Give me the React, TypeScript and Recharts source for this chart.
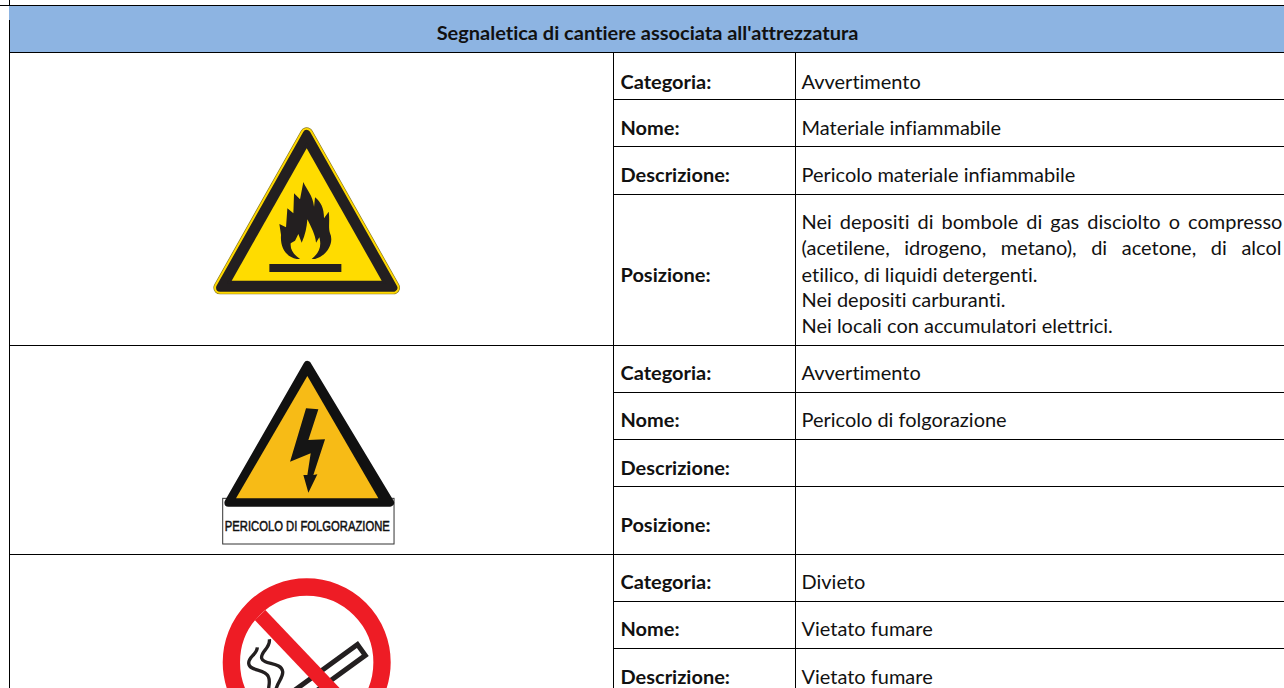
import React from "react";
import { ScatterChart, Scatter, XAxis, YAxis, ReferenceArea, ReferenceLine } from "recharts";

const FONT = "Lato, Carlito, 'Open Sans', sans-serif";
const W = 1284;
const H = 688;
const TEXT_SIZE = 18.5;
const TEXT_STRETCH = 1.08;

const headerTitle = "Segnaletica di cantiere associata all'attrezzatura";
const fieldNames = ["Categoria:", "Nome:", "Descrizione:", "Posizione:", "Categoria:", "Nome:", "Descrizione:", "Posizione:", "Categoria:", "Nome:", "Descrizione:"];
const fieldRowsY = [83, 129, 176, 276, 374, 421, 469, 526, 583, 630, 678];
const fieldValues = ["Avvertimento", "Materiale infiammabile", "Pericolo materiale infiammabile", "", "Avvertimento", "Pericolo di folgorazione", "", "", "Divieto", "Vietato fumare", "Vietato fumare"];
const positionLines = [
  "Nei depositi di bombole di gas disciolto o compresso",
  "(acetilene, idrogeno, metano), di acetone, di alcol",
  "etilico, di liquidi detergenti.",
  "Nei depositi carburanti.",
  "Nei locali con accumulatori elettrici.",
];
const positionLinesY = [223, 249, 276, 301, 327];
const positionLineGaps = [2.7, 8.8, 0, 0, 0];
const partialRules = [99.5, 146.5, 194.5, 392.5, 439.5, 486.5, 601.5, 648.5];
const fullRules = [345.5, 554.5];
const signKinds = ["fire", "shock", "smoke"];
const signCentersX = [306.7, 306.7, 306.7];
const signCentersY = [210, 450, 662];

const Cell = (props: any) => {
  const { cx, cy, payload } = props;
  const p = payload;
  return (
    <text transform={`translate(${cx} ${cy}) scale(${TEXT_STRETCH} 1)`} dy="0.35em" fontFamily={FONT} fontSize={p.size} fontWeight={p.bold ? 700 : 400}
      fill="#111" textAnchor={p.anchor} wordSpacing={p.gap || 0} style={{ fontVariantLigatures: "none" }}>{p.text}</text>
  );
};

const FIRE_OUTLINE = "M320 72 L580 533 L60 533 Z";

const Sign = (props: any) => {
  const { cx, cy, payload } = props;
  const kind = payload.kind;
  if (kind === "fire") {
    return (
      <g transform={`translate(${cx} ${cy}) scale(${1 / 3}) translate(-320 -300)`}>
        <path d={FIRE_OUTLINE} fill="#FFD800" stroke="#8a7a20" strokeWidth={40} strokeLinejoin="round" />
        <path d={FIRE_OUTLINE} fill="#FFD800" stroke="#FFD800" strokeWidth={36} strokeLinejoin="round" />
        <path d={FIRE_OUTLINE} fill="#231F20" stroke="#231F20" strokeWidth={24} strokeLinejoin="round" />
        <path d="M320 115 L545 512 L95 512 Z" fill="#FFDC00" />
        <path fill="#231F20" d="M290 447 C255 440 240 410 243 375 L238 342 L258 352 L262 295 L280 310 L282 250 L300 268 L310 216 C320 240 338 255 342 290 L345 262 C362 275 372 295 372 325 L386 305 C390 335 384 350 390 370 C402 395 385 435 345 447 Z" />
        <path fill="#FFDC00" d="M300 447 C282 435 270 420 272 400 L285 392 L295 372 L305 398 C316 375 320 352 322 328 C334 352 346 375 348 398 L358 382 C366 410 356 430 335 447 Z" />
        <rect x={208} y={462} width={216} height={24} fill="#231F20" />
      </g>
    );
  }
  if (kind === "shock") {
    return (
      <g transform={`translate(${cx} ${cy}) scale(${1 / 3}) translate(-320 -300)`}>
        <rect x={68} y={445} width={514} height={137} fill="#fff" stroke="#333" strokeWidth={3} />
        <path d="M322 45 L570 458 L85 458 Z" fill="#111" stroke="#111" strokeWidth={24} strokeLinejoin="round" />
        <path d="M322 78 L535 445 L108 445 Z" fill="#F7BB16" />
        <path fill="#151515" d="M318 175 L355 178 L325 270 L375 268 L340 375 L352 373 L325 428 L310 375 L322 375 L332 310 L270 335 Z" />
        <text x={322} y={544} textAnchor="middle" fontFamily="'Liberation Sans Narrow','Liberation Sans',sans-serif" fontSize={42} fontWeight={400} stroke="#111" strokeWidth={1.5} fill="#111"
          textLength={495} lengthAdjust="spacingAndGlyphs">PERICOLO DI FOLGORAZIONE</text>
      </g>
    );
  }
  return (
    <g transform={`translate(${cx} ${cy}) scale(${1 / 3}) translate(-320 -306)`}>
      <g transform="rotate(-36 484 270)">
        <rect x={100} y={250} width={384} height={40} fill="#fff" stroke="#231F20" strokeWidth={15} />
      </g>
      <path d="M172 262 C170 285 145 290 146 310 C148 335 195 325 205 350 C212 365 205 375 205 400" fill="none" stroke="#231F20" strokeWidth={10} />
      <path d="M208 238 C212 265 180 275 185 295 C190 315 245 305 248 335 C250 355 230 365 225 400" fill="none" stroke="#231F20" strokeWidth={10} />
      <line x1={180} y1={165} x2={470} y2={470} stroke="#EE1C25" strokeWidth={44} />
      <circle cx={320} cy={307} r={226} fill="none" stroke="#EE1C25" strokeWidth={52} />
    </g>
  );
};

const nameCells = fieldNames.map((text, i) => ({ x: 620.5, y: fieldRowsY[i], text, bold: true, size: TEXT_SIZE, anchor: "start" }));
const valueCells = fieldValues.map((text, i) => ({ x: 801.5, y: fieldRowsY[i], text, bold: false, size: TEXT_SIZE, anchor: "start" }));
const lineCells = positionLines.map((text, i) => ({ x: 801.5, y: positionLinesY[i], text, bold: false, size: TEXT_SIZE, anchor: "start", gap: positionLineGaps[i] }));
const titleCell = [{ x: 647.5, y: 34, text: headerTitle, bold: true, size: TEXT_SIZE, anchor: "middle" }];
const signs = signKinds.map((kind, i) => ({ x: signCentersX[i], y: signCentersY[i], kind }));

const rule = (x1: number, y1: number, x2: number, y2: number, key: string) => (
  <ReferenceLine key={key} segment={[{ x: x1, y: y1 }, { x: x2, y: y2 }]} stroke="#000" strokeWidth={1} ifOverflow="visible" />
);

export default function App() {
  return (
    <div style={{ position: "absolute", left: 0, top: 0, width: W, height: H, background: "#fff" }}>
      <ScatterChart width={W} height={H} margin={{ top: 0, right: 0, bottom: 0, left: 0 }}>
        <XAxis type="number" dataKey="x" domain={[0, W]} hide />
        <YAxis type="number" dataKey="y" domain={[0, H]} reversed hide />
        <ReferenceArea x1={9} x2={W} y1={6} y2={52} fill="#8DB4E2" fillOpacity={1} stroke="none" ifOverflow="visible" />
        {rule(0, 5.5, W, 5.5, "top")}
        {rule(9.5, 0, 9.5, 5.5, "leftTop")}
        {rule(9.5, 20, 9.5, H, "left")}
        {rule(9, 52.5, W, 52.5, "head")}
        {rule(613.5, 52.5, 613.5, H, "v1")}
        {rule(795.5, 52.5, 795.5, H, "v2")}
        {fullRules.map((y) => rule(9.5, y, W, y, `f${y}`))}
        {partialRules.map((y) => rule(613.5, y, W, y, `p${y}`))}
        <Scatter data={signs} shape={Sign} isAnimationActive={false} />
        <Scatter data={titleCell} shape={Cell} isAnimationActive={false} />
        <Scatter data={nameCells} shape={Cell} isAnimationActive={false} />
        <Scatter data={valueCells} shape={Cell} isAnimationActive={false} />
        <Scatter data={lineCells} shape={Cell} isAnimationActive={false} />
      </ScatterChart>
    </div>
  );
}
